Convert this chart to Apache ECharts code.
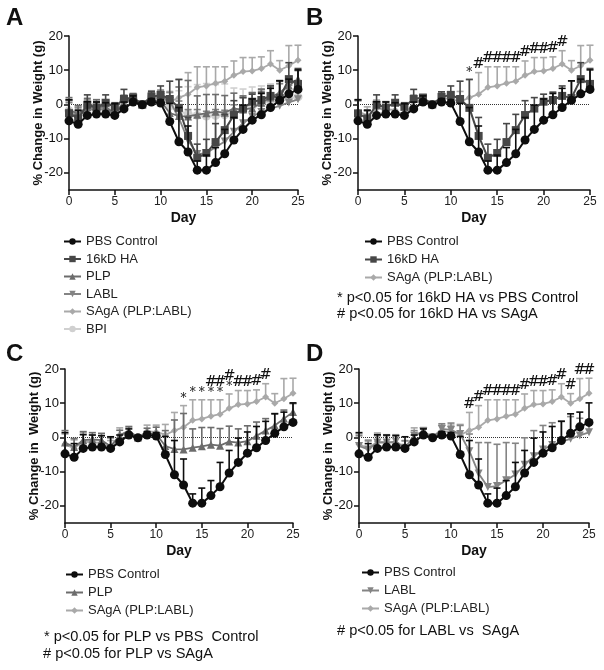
<!DOCTYPE html>
<html><head><meta charset="utf-8">
<script src="https://cdn.jsdelivr.net/npm/echarts@6/dist/echarts.min.js"></script>
<style>html,body{margin:0;padding:0;background:#fff}#c{width:604px;height:670px}</style>
</head><body><div id="c"></div>
<script>
// ---------------- data ----------------
const days = [0,1,2,3,4,5,6,7,8,9,10,11,12,13,14,15,16,17,18,19,20,21,22,23,24,25];
const yTicks = [-20,-10,0,10,20];

const pbs    = [-4.8,-5.8,-3.2,-2.8,-2.8,-3.2,-1.3,0.7,-0.1,0.7,0.4,-5.0,-10.9,-13.9,-19.2,-19.2,-17.0,-14.4,-10.4,-7.3,-4.6,-3.0,-0.9,1.2,3.1,4.4];
const pbsErr = [6.2,4.0,4.0,3.5,3.3,3.4,2.0,1.8,0.5,1.0,1.0,5.3,10.0,7.6,2.7,4.4,4.4,7.1,6.6,7.1,6.2,6.2,5.6,5.7,4.3,5.7];

const ha16    = [-2.6,-4.1,-0.1,-0.9,0.5,-0.7,1.6,2.0,0.0,2.2,2.8,1.6,-1.0,-9.2,-15.6,-14.2,-11.0,-7.5,-3.1,-1.2,0.8,1.3,2.5,1.9,7.4,6.0];
const ha16Err = [3.9,2.5,2.9,1.7,2.3,1.2,2.8,0.5,0.3,1.5,2.6,5.2,8.3,5.4,4.0,4.0,5.4,4.6,4.2,3.2,2.2,2.3,2.9,5.0,4.8,4.5];

const plp    = [-1.5,-2.8,-0.8,-0.6,-0.8,-2.6,0.6,2.0,0.0,1.2,1.0,-2.5,-3.4,-3.5,-3.0,-2.6,-2.1,-2.4,-1.2,-1.5,-1.1,0.5,2.0,3.5,5.5,7.4];
const plpErr = [3.5,2.5,2.5,2.0,2.0,2.5,1.5,1.2,0.4,1.5,2.0,4.5,8.5,10.5,5.5,5.5,5.0,5.0,4.5,4.0,4.5,4.0,3.5,3.5,2.5,2.5];

const labl    = [-2.5,-3.5,-1.5,-1.5,-1.2,-3.0,0.5,1.8,0.0,2.5,2.2,1.0,-4.0,-10.5,-14.5,-14.2,-12.5,-10.8,-8.0,-5.5,-3.5,-2.2,-1.2,-0.4,0.6,1.5];
const lablErr = [3.0,2.5,2.0,2.0,2.0,2.0,1.5,1.0,0.4,1.5,2.0,2.5,5.0,9.0,13.0,12.2,11.0,9.1,7.9,7.5,7.0,6.5,6.0,6.5,5.0,3.5];

const saga    = [-2.0,-3.2,-1.2,-1.4,-1.6,-3.4,0.8,1.4,0.0,1.8,1.6,0.8,2.0,3.0,5.0,5.4,6.2,6.8,8.5,9.6,9.8,10.5,11.8,10.0,11.3,12.9];
const sagaErr = [3.0,2.5,2.5,2.2,2.2,2.5,2.0,1.5,0.4,1.8,2.0,3.0,5.3,6.3,6.0,5.6,4.8,4.2,4.2,4.1,3.9,3.4,3.9,2.8,5.9,4.4];

const bpi    = [-1.8,-3.0,-0.5,-1.0,-0.8,-2.2,1.2,1.5,0.0,2.0,1.8,-0.5,-2.0,-2.8,-3.2,-3.4,-3.2,-3.0,-2.2,-1.5,-0.4,0.4,1.0,1.5,1.8,2.2];
const bpiErr = [3.0,2.5,2.5,2.0,2.0,2.0,1.5,1.2,0.4,1.5,2.0,4.0,6.0,8.0,9.0,9.5,9.0,9.0,7.0,6.0,5.5,5.0,5.0,4.5,4.0,4.0];

// significance marks (days)
const starsB  = [12];
const hashesB = [13,14,15,16,17,18,19,20,21,22];
const starsC  = [13,14,15,16,17,18];
const hashesC = [16,17,18,19,20,21,22];
const starsD  = [];
const hashesD = [12,13,14,15,16,17,18,19,20,21,22,23,24,25];

// ---------------- styles ----------------
const FONT = '"Liberation Sans", Arial, sans-serif';
const G = {
  pbs:  {name:'PBS Control',     color:'#0d0d0d', symbol:'circle',   size:9, vals:pbs,  err:pbsErr,  z:10, lw:2},
  ha16: {name:'16kD HA',         color:'#474747', symbol:'rect',     size:8, vals:ha16, err:ha16Err, z:9,  lw:2},
  plp:  {name:'PLP',             color:'#6c6c6c', symbol:'triangle', size:8, vals:plp,  err:plpErr,  z:8,  lw:1.8},
  labl: {name:'LABL',            color:'#848484', symbol:'path://M0,0L10,0L5,8.7Z', size:8, vals:labl, err:lablErr, z:7, lw:1.8},
  saga: {name:'SAgA (PLP:LABL)', color:'#a9a9a9', symbol:'diamond',  size:7, vals:saga, err:sagaErr, z:6,  lw:1.8},
  bpi:  {name:'BPI',             color:'#d0d0d0', symbol:'circle',   size:9, vals:bpi,  err:bpiErr,  z:5,  lw:1.8}
};

const panels = [
  {keys:['pbs','ha16','plp','labl','saga','bpi'], grid:{left:69, top:36, width:229, height:154}, yname:'% Change in Weight (g)', stars:[], hashes:[]},
  {keys:['pbs','ha16','saga'], grid:{left:358, top:36, width:232, height:154}, yname:'% Change in Weight (g)', stars:starsB, hashes:hashesB},
  {keys:['pbs','plp','saga'],  grid:{left:65, top:369, width:228, height:154}, yname:'% Change in  Weight (g)', stars:starsC, hashes:hashesC},
  {keys:['pbs','labl','saga'], grid:{left:359, top:369, width:230, height:154}, yname:'% Change in  Weight (g)', stars:starsD, hashes:hashesD}
];

const grids = [], xAxes = [], yAxes = [], series = [];

function errRender(color){
  return function(params, api){
    const x = api.value(0), y = api.value(1), e = api.value(2);
    const p0 = api.coord([x, y]), p1 = api.coord([x, y + e]);
    const hw = 3.5;
    return {type:'group', children:[
      {type:'line', shape:{x1:p0[0], y1:p0[1], x2:p1[0], y2:p1[1]}, style:{stroke:color, lineWidth:1.6}},
      {type:'line', shape:{x1:p1[0]-hw, y1:p1[1], x2:p1[0]+hw, y2:p1[1]}, style:{stroke:color, lineWidth:1.6}}
    ]};
  };
}
function markRender(text, size){
  return function(params, api){
    const p = api.coord([api.value(0), api.value(1)]);
    return {type:'text', x:p[0], y:p[1], style:{text:text, fill:'#111', font:size+'px "DejaVu Serif", serif', align:'center', verticalAlign:'bottom'}};
  };
}

panels.forEach((P, gi) => {
  grids.push(Object.assign({containLabel:false}, P.grid));
  xAxes.push({
    type:'value', gridIndex:gi, min:0, max:25, interval:5,
    name:'Day', nameLocation:'middle', nameGap:21, nameMoveOverlap:false,
    nameTextStyle:{fontWeight:'bold', fontSize:14, color:'#111', fontFamily:FONT},
    axisLine:{onZero:false, lineStyle:{color:'#111', width:1.5}},
    axisTick:{length:5, lineStyle:{color:'#111', width:1.5}},
    axisLabel:{fontSize:12, color:'#222', margin:6, fontFamily:FONT},
    splitLine:{show:false}
  });
  yAxes.push({
    type:'value', gridIndex:gi, min:-25, max:20,
    name:P.yname, nameLocation:'middle', nameGap:24, nameRotate:90, nameMoveOverlap:false,
    nameTextStyle:{fontWeight:'bold', fontSize:13, color:'#111', fontFamily:FONT},
    axisLine:{show:true, onZero:false, lineStyle:{color:'#111', width:1.5}},
    axisTick:{show:true, customValues:yTicks, length:5, lineStyle:{color:'#111', width:1.5}},
    axisLabel:{customValues:yTicks, fontSize:13, color:'#111', margin:6, fontFamily:FONT},
    splitLine:{show:false}
  });
  // zero reference line
  series.push({
    type:'line', xAxisIndex:gi, yAxisIndex:gi, data:[], z:1, silent:true,
    markLine:{silent:true, symbol:'none', label:{show:false},
      lineStyle:{type:'dotted', color:'#333', width:1}, data:[{yAxis:0}]}
  });
  const order = P.keys.slice().sort((a,b)=>G[a].z - G[b].z);
  order.forEach(k => {
    const g = G[k];
    series.push({
      type:'custom', name:g.name+' err', xAxisIndex:gi, yAxisIndex:gi, z:g.z, silent:true,
      renderItem:errRender(g.color),
      data:days.map((d,i)=>[d, g.vals[i], g.err[i]]), encode:{x:0, y:1}
    });
    series.push({
      type:'line', name:g.name, xAxisIndex:gi, yAxisIndex:gi, z:g.z,
      data:days.map((d,i)=>[d, g.vals[i]]),
      symbol:g.symbol, symbolSize:g.size, showSymbol:true,
      lineStyle:{color:g.color, width:g.lw}, itemStyle:{color:g.color},
      animation:false
    });
  });
  const starSet = new Set(P.stars);
  if (P.stars.length) series.push({
    type:'custom', xAxisIndex:gi, yAxisIndex:gi, z:12, silent:true,
    renderItem:markRender('*', 12),
    data:P.stars.map(d=>[d, saga[d]+sagaErr[d]+0.3]), encode:{x:0, y:1}
  });
  if (P.hashes.length) series.push({
    type:'custom', xAxisIndex:gi, yAxisIndex:gi, z:12, silent:true,
    renderItem:markRender('#', 15),
    data:P.hashes.map(d=>[d, saga[d]+sagaErr[d]+0.3+(starSet.has(d)?2.6:0)]), encode:{x:0, y:1}
  });
});

const legendBase = {orient:'vertical', itemGap:5, itemWidth:17, itemHeight:8, selectedMode:false,
  textStyle:{fontSize:13, color:'#222', fontFamily:FONT}};
const legends = [
  Object.assign({}, legendBase, {left:58, top:230, itemGap:4.5, data:panels[0].keys.map(k=>G[k].name)}),
  Object.assign({}, legendBase, {left:359, top:230, data:panels[1].keys.map(k=>G[k].name)}),
  Object.assign({}, legendBase, {left:60, top:563, data:panels[2].keys.map(k=>G[k].name)}),
  Object.assign({}, legendBase, {left:356, top:561, data:panels[3].keys.map(k=>G[k].name)})
];

function txt(x, y, s, size, bold){
  return {type:'text', left:x, top:y, style:{text:s, font:(bold?'bold ':'')+size+'px '+FONT, fill:'#111'}};
}
const graphics = [
  txt(6, 6, 'A', 24, true), txt(306, 6, 'B', 24, true),
  txt(6, 342, 'C', 24, true), txt(306, 342, 'D', 24, true),
  txt(337, 290, '* p<0.05 for 16kD HA vs PBS Control', 14.6),
  txt(337, 306, '# p<0.05 for 16kD HA vs SAgA', 14.6),
  txt(44, 629, '* p<0.05 for PLP vs PBS  Control', 14.6),
  txt(43, 646, '# p<0.05 for PLP vs SAgA', 14.6),
  txt(337, 623, '# p<0.05 for LABL vs  SAgA', 14.6)
];

const chart = echarts.init(document.getElementById('c'), null, {renderer:'canvas'});
chart.setOption({
  animation:false, backgroundColor:'#fff',
  grid:grids, xAxis:xAxes, yAxis:yAxes, legend:legends, series:series, graphic:graphics
});
</script></body></html>
